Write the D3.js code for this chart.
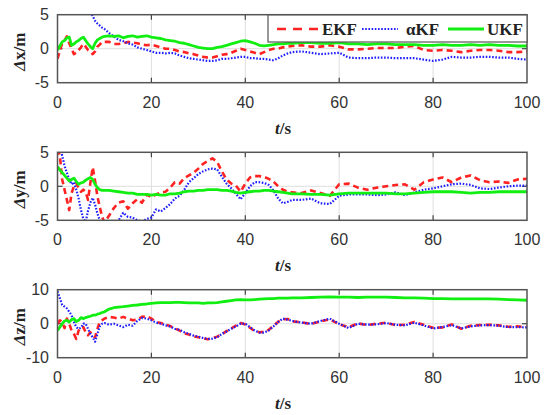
<!DOCTYPE html>
<html lang="en">
<head>
<meta charset="UTF-8">
<script src="https://d3js.org/d3.v7.min.js"></script>
<title>EKF / aKF / UKF errors</title>
<style>
  body { margin: 0; background: #fff; }
  text.tick { font-family: 'Liberation Sans', Arial, sans-serif; font-size: 16px; fill: #333; }
  text.ylab { font-family: 'Liberation Serif', 'Times New Roman', serif; font-size: 17px; font-weight: bold; fill: #222; }
  text.xlab { font-family: 'Liberation Serif', 'Times New Roman', serif; font-size: 17px; font-weight: bold; fill: #222; }
  text.leg { font-family: 'Liberation Serif', 'Times New Roman', serif; font-size: 17px; font-weight: bold; fill: #222; }
</style>
</head>
<body>
<svg width="550" height="415"></svg>
<script>
// sample times (s)
const T = [].concat(d3.range(0, 10.01, 0.5), d3.range(11, 51), d3.range(52, 101, 2));
const xTicks = [0, 20, 40, 60, 80, 100];
const names = ["EKF", "\u03B1KF", "UKF"];

// panel 1: Δx
const ekfX = [-1.5,-0.3,0.8,1.2,1.8,0.8,0.0,-0.8,-0.6,-0.2,0.2,0.7,0.3,-0.2,-0.4,-0.8,-0.4,0.3,0.6,1.0,1.0,
  1.0,0.7,0.7,0.8,1.0,0.9,0.8,0.6,0.5,0.6,0.4,0.2,0.0,0.0,-0.2,-0.4,-0.5,-0.7,-0.8,-1.0,-1.2,-1.3,-1.3,-1.1,-0.9,-0.8,-0.6,-0.3,0.0,-0.2,-0.4,-0.6,-0.8,-0.5,-0.2,0.0,0.0,0.2,0.3,0.4,
  0.5,0.3,0.3,0.5,0.3,-0.1,-0.1,0.0,0.1,0.1,0.1,0.3,0.4,-0.2,-0.3,-0.2,-0.3,-0.5,-0.3,-0.2,-0.2,-0.3,-0.5,-0.5,-0.4];
const akfX = [14,13,12.5,12,11.5,11,10.5,10,9.5,9,8.5,7.8,7,6.3,5.4,4.8,4.1,3.7,3.4,3.1,2.9,
  2.3,1.8,1.3,1.1,0.8,0.6,0.2,0.0,-0.2,-0.4,-0.6,-0.6,-0.7,-0.6,-0.7,-1.0,-1.2,-1.4,-1.5,-1.6,-1.7,-1.8,-1.8,-1.7,-1.5,-1.5,-1.4,-1.3,-1.2,-1.2,-1.4,-1.4,-1.5,-1.5,-1.6,-1.7,-1.4,-1.0,-0.7,-0.5,
  -0.4,-0.6,-0.8,-0.7,-0.6,-1.3,-1.4,-1.4,-1.3,-1.3,-1.4,-1.4,-1.4,-1.6,-1.8,-1.6,-1.2,-1.3,-1.3,-1.2,-1.2,-1.3,-1.3,-1.5,-1.6];
const ukfX = [-0.2,0.4,1.0,1.2,1.6,1.7,0.5,0.7,1.0,1.2,1.5,1.7,1.2,0.7,0.3,0.0,0.8,1.3,1.5,1.7,1.8,
  1.9,1.8,1.9,1.6,1.8,1.9,1.7,1.8,1.9,1.7,1.6,1.5,1.3,1.2,1.1,0.9,0.8,0.6,0.4,0.2,0.1,0.0,0.0,0.2,0.3,0.5,0.7,0.9,1.1,1.2,1.0,0.8,0.5,0.4,0.5,0.6,0.7,0.7,0.8,0.8,
  0.9,0.9,0.8,0.8,0.9,0.7,0.7,0.6,0.7,0.7,0.6,0.6,0.6,0.5,0.5,0.6,0.5,0.5,0.6,0.5,0.6,0.5,0.5,0.4,0.4];

// panel 2: Δy
const ekfY = [5.5,4.5,1.0,-0.5,-2.0,-3.5,-1.0,0.0,0.5,-0.3,-0.8,-0.5,-0.8,-2.0,0.5,2.8,0.8,-1.5,-3.0,-4.5,-5.3,
  -4.3,-3.2,-2.4,-2.2,-3.3,-2.5,-1.9,-2.4,-1.2,-1.6,-1.2,-0.9,-0.8,-0.2,0.6,0.4,1.2,1.6,2.0,2.6,3.3,3.7,4.1,3.6,2.2,1.0,0.4,0.1,-0.8,0.4,1.3,1.5,1.5,1.4,1.1,0.7,0.0,-0.5,-0.8,-0.9,
  -1.0,-0.6,-1.0,-1.4,0.3,0.4,-0.2,-0.5,-0.2,0.0,0.2,0.3,-0.5,0.6,1.0,1.3,0.6,1.3,1.6,0.9,0.6,0.7,0.5,1.0,1.1];
const akfY = [7.0,6.0,4.5,3.0,2.0,1.0,0.3,0.6,-0.5,-1.8,-3.5,-4.8,-5.2,-3.6,-2.4,-1.7,-2.7,-4.0,-5.0,-5.6,-6.0,
  -6.0,-5.6,-5.0,-3.9,-4.5,-4.6,-5.0,-5.2,-4.8,-4.6,-3.4,-3.7,-3.2,-2.6,-1.8,-1.4,-0.5,0.6,1.2,1.8,2.2,2.5,2.6,2.5,1.4,0.4,-0.3,-1.1,-1.9,-1.0,0.0,0.6,0.6,0.5,0.2,-0.6,-1.8,-2.5,-2.3,-2.0,
  -2.0,-1.8,-2.5,-2.6,-1.4,-1.2,-1.2,-1.2,-1.3,-1.2,-0.9,-1.3,-0.9,-0.5,-0.3,0.0,0.3,0.4,0.2,-0.3,-0.4,-0.2,0.0,0.1,0.1];
const ukfY = [2.9,2.4,2.0,1.6,1.2,0.8,1.0,1.2,0.7,0.3,0.5,0.6,0.9,1.1,1.3,1.0,0.3,-0.2,-0.5,-0.6,-0.6,
  -0.6,-0.7,-0.8,-0.9,-1.0,-1.0,-1.2,-1.2,-1.2,-1.3,-1.2,-1.3,-1.3,-1.1,-1.1,-1.0,-0.8,-0.7,-0.7,-0.6,-0.6,-0.5,-0.5,-0.5,-0.6,-0.6,-0.7,-0.9,-1.0,-0.9,-0.8,-0.7,-0.7,-0.6,-0.6,-0.7,-0.8,-0.9,-1.0,-1.1,
  -1.1,-1.2,-1.2,-1.3,-1.1,-1.0,-1.0,-1.0,-1.0,-1.0,-1.1,-1.1,-1.0,-0.9,-0.8,-0.8,-0.8,-0.9,-1.0,-0.9,-0.9,-0.8,-0.8,-0.8,-0.8];

// panel 3: Δz
const ekfZ = [0.0,1.0,0.5,-1.3,1.5,0.0,-2.0,-3.0,-4.5,-2.0,-1.0,-1.0,-2.5,-3.4,-2.5,-3.5,-4.0,-1.5,0.5,1.0,1.5,
  2.0,1.8,1.5,2.0,1.5,1.0,1.2,2.0,2.2,1.5,0.5,0.2,-0.3,-0.7,-1.4,-2.0,-2.8,-3.2,-3.7,-4.0,-4.3,-4.6,-4.3,-3.8,-3.1,-2.2,-1.4,-0.6,0.2,-0.2,-1.2,-2.2,-2.5,-2.4,-1.8,-0.6,0.6,1.3,1.4,0.7,
  0.4,-0.1,0.7,1.3,-0.2,-1.0,0.1,-0.4,0.0,0.3,-0.4,-0.3,0.5,-0.3,-1.2,-1.1,-0.2,-1.5,-0.6,-0.4,-0.3,-0.5,-0.9,-0.8,-1.0];
const akfZ = [9.5,7.5,5.5,5.0,4.5,3.5,2.5,0.5,-1.0,-1.5,-1.2,0.0,0.0,-1.5,-3.0,-4.0,-5.3,-3.0,-0.8,0.0,0.2,
  -0.3,0.0,-0.5,-1.0,-0.3,-0.6,0.8,1.7,1.5,1.0,0.3,0.0,-0.5,-0.8,-1.5,-1.8,-2.5,-3.0,-3.5,-3.8,-4.2,-4.5,-4.4,-4.0,-3.0,-2.3,-1.5,-0.8,0.0,0.0,-1.0,-2.0,-2.6,-2.6,-2.0,-0.8,0.5,1.5,1.2,0.8,
  0.3,0.0,0.8,1.5,0.0,-1.3,0.0,-0.3,-0.2,0.2,-0.3,-0.5,0.3,-0.5,-1.4,-1.0,-0.4,-1.4,-0.8,-0.5,-0.4,-0.6,-1.0,-1.0,-1.1];
const ukfZ = [-2.0,-1.0,0.0,0.8,1.0,0.5,1.2,1.5,0.6,1.0,1.8,1.5,1.8,2.0,2.2,2.5,2.5,2.8,3.0,3.3,3.5,
  4.3,4.7,4.9,5.0,5.2,5.4,5.5,5.7,5.8,6.0,6.1,6.2,6.2,6.2,6.3,6.3,6.2,6.1,6.1,6.1,6.0,6.1,6.1,6.2,6.4,6.6,6.8,7.0,7.1,7.0,7.0,7.1,7.2,7.3,7.4,7.4,7.5,7.5,7.5,7.6,
  7.6,7.7,7.8,7.9,7.8,7.8,7.7,7.8,7.8,7.8,7.7,7.6,7.6,7.5,7.4,7.4,7.3,7.3,7.3,7.3,7.3,7.2,7.1,7.0,6.9];

const svg = d3.select("svg");
const left = 57.5, right = 527, ph = 68;
const x = d3.scaleLinear().domain([0, 100]).range([left, right]);

const styles = [
  {color: "#ff2222", width: 2.6, dash: "6,4"},
  {color: "#1f1fff", width: 2.2, dash: "1.6,1.6"},
  {color: "#11ee11", width: 2.8, dash: null}
];

const panels = [
  {top: 14.7, domain: [-5, 5], yticks: [-5, 0, 5], label: "x", series: [ekfX, akfX, ukfX]},
  {top: 152.3, domain: [-5, 5], yticks: [-5, 0, 5], label: "y", series: [ekfY, akfY, ukfY]},
  {top: 289.7, domain: [-10, 10], yticks: [-10, 0, 10], label: "z", series: [ekfZ, akfZ, ukfZ]}
];

panels.forEach((p, i) => drawPanel(p, i));

function drawPanel(p, i) {
  const y = d3.scaleLinear().domain(p.domain).range([p.top + ph, p.top]);
  const g = svg.append("g");

  g.append("clipPath").attr("id", "clip" + i)
    .append("rect").attr("x", left).attr("y", p.top).attr("width", right - left).attr("height", ph);

  // light grid
  g.selectAll("line.gx").data(xTicks.slice(1, -1)).enter().append("line")
    .attr("x1", x).attr("x2", x).attr("y1", p.top).attr("y2", p.top + ph)
    .attr("stroke", "#dedede").attr("stroke-width", 1);
  g.append("line")
    .attr("x1", left).attr("x2", right).attr("y1", y(0)).attr("y2", y(0))
    .attr("stroke", "#dedede").attr("stroke-width", 1);

  // inward tick marks like matlab
  g.selectAll("line.tb").data(xTicks.slice(1, -1)).enter().append("line")
    .attr("x1", x).attr("x2", x).attr("y1", p.top + ph).attr("y2", p.top + ph - 5)
    .attr("stroke", "#444").attr("stroke-width", 1.2);
  g.selectAll("line.tt").data(xTicks.slice(1, -1)).enter().append("line")
    .attr("x1", x).attr("x2", x).attr("y1", p.top).attr("y2", p.top + 5)
    .attr("stroke", "#444").attr("stroke-width", 1.2);
  g.append("line").attr("x1", left).attr("x2", left + 5).attr("y1", y(0)).attr("y2", y(0))
    .attr("stroke", "#444").attr("stroke-width", 1.2);
  g.append("line").attr("x1", right).attr("x2", right - 5).attr("y1", y(0)).attr("y2", y(0))
    .attr("stroke", "#444").attr("stroke-width", 1.2);

  const line = d3.line().x((d, k) => x(T[k])).y(d => y(d));
  const lines = g.append("g").attr("clip-path", `url(#clip${i})`);
  p.series.forEach((s, k) => {
    lines.append("path").datum(s)
      .attr("d", line)
      .attr("fill", "none")
      .attr("stroke", styles[k].color)
      .attr("stroke-width", styles[k].width)
      .attr("stroke-dasharray", styles[k].dash)
      .attr("stroke-linejoin", "round");
  });

  // frame
  g.append("rect").attr("x", left).attr("y", p.top).attr("width", right - left).attr("height", ph)
    .attr("fill", "none").attr("stroke", "#555").attr("stroke-width", 1.5);

  // tick labels
  g.selectAll("text.xt").data(xTicks).enter().append("text").attr("class", "tick")
    .attr("x", x).attr("y", p.top + ph + 25).attr("text-anchor", "middle")
    .text(d => d);
  g.selectAll("text.yt").data(p.yticks).enter().append("text").attr("class", "tick")
    .attr("x", 49).attr("y", d => y(d) + 5.5).attr("text-anchor", "end")
    .text(d => d);

  // axis titles
  const yl = g.append("text").attr("class", "ylab")
    .attr("transform", `translate(25,${p.top + ph / 2 + 3}) rotate(-90)`)
    .attr("text-anchor", "middle");
  yl.append("tspan").attr("font-style", "italic").text("\u0394");
  yl.append("tspan").text(p.label + "/m");

  const xl = g.append("text").attr("class", "xlab")
    .attr("x", 283).attr("y", p.top + ph + 51).attr("text-anchor", "middle");
  xl.append("tspan").attr("font-style", "italic").text("t");
  xl.append("tspan").text("/s");

  if (i === 0) drawLegend(g);
}

function drawLegend(g) {
  const lg = g.append("g");
  lg.append("rect").attr("x", 268).attr("y", 15).attr("width", 259).attr("height", 27)
    .attr("fill", "#fff").attr("stroke", "#555").attr("stroke-width", 1.2);
  const lx = [277, 362, 448], tx = [322, 406, 487];
  names.forEach((n, k) => {
    lg.append("line").attr("x1", lx[k]).attr("x2", lx[k] + (k === 0 ? 42 : 36))
      .attr("y1", 29).attr("y2", 29)
      .attr("stroke", styles[k].color).attr("stroke-width", styles[k].width)
      .attr("stroke-dasharray", k === 0 ? "9,7" : styles[k].dash);
    lg.append("text").attr("class", "leg").attr("x", tx[k]).attr("y", 35).text(n);
  });
}
</script>
</body>
</html>
